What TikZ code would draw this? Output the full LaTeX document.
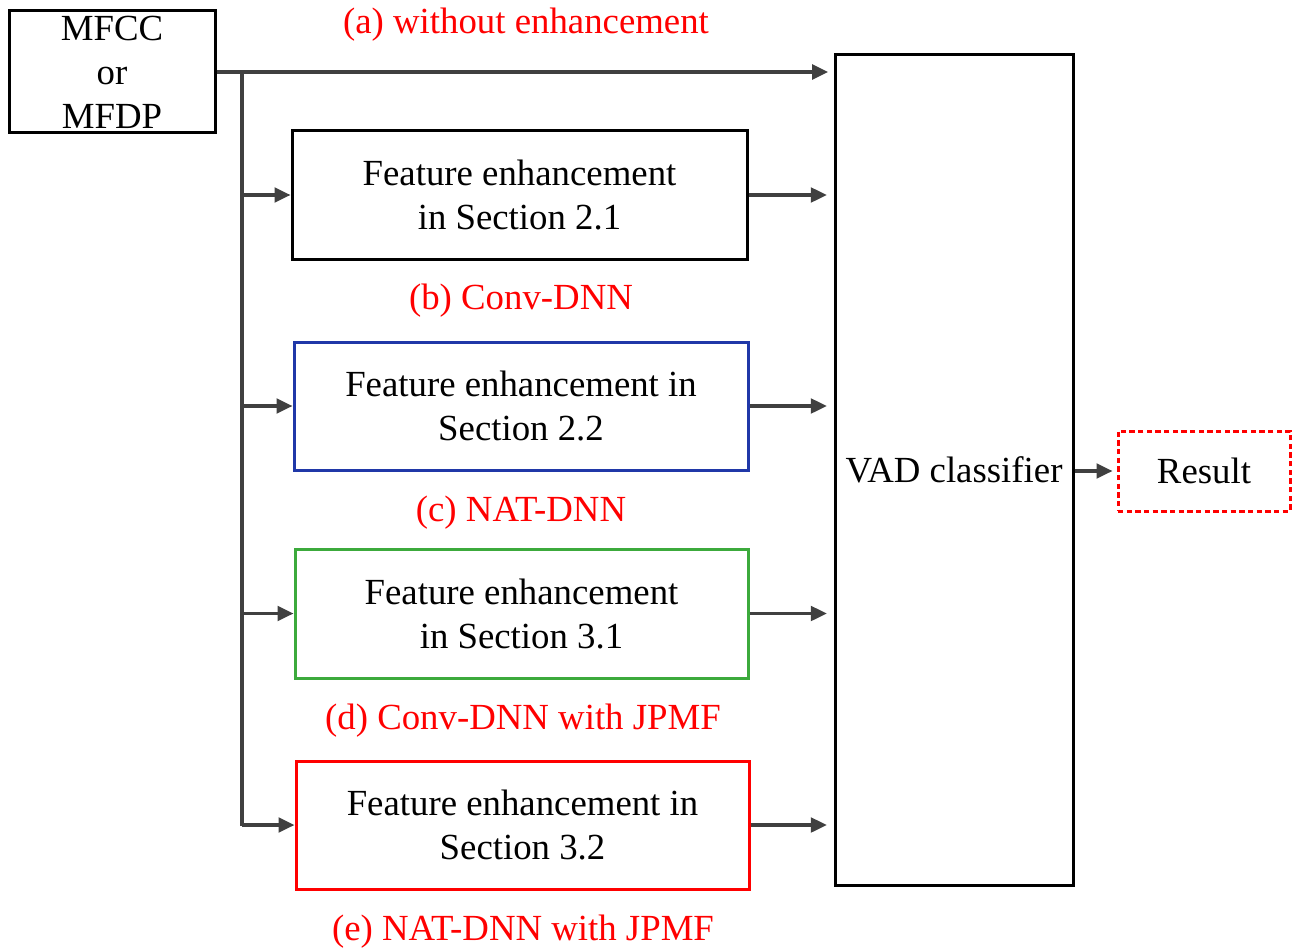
\documentclass[tikz,border=0pt]{standalone}
\usepackage{fontspec}
\setmainfont{Liberation Serif}
\usetikzlibrary{arrows.meta}
\definecolor{lnk}{RGB}{64,64,64}
\definecolor{bblue}{RGB}{32,56,168}
\definecolor{bgreen}{RGB}{60,170,60}
\definecolor{bred}{RGB}{255,0,0}
\begin{document}
\begin{tikzpicture}[x=0.75pt,y=-0.75pt,
  every node/.style={font=\fontsize{27.6}{33}\selectfont, align=center, inner sep=0pt},
  box/.style={draw, line width=2.25pt, minimum width=#1},
  lab/.style={text=bred},
  conn/.style={draw=lnk, line width=2.4pt, -{Triangle[length=12pt,width=11pt]}},
  trunk/.style={draw=lnk, line width=2.4pt}]
\useasboundingbox (0,0) rectangle (1293,949);
\node[box=154.5pt, minimum height=91.5pt] (mf) at (112,72) {MFCC\\or\\MFDP};
\node[box=178.5pt, minimum height=622.5pt] (vad) at (954,470) {VAD classifier};
\node[box=129pt, minimum height=60pt, draw=bred, dash pattern=on 4pt off 2.5pt] (res) at (1204,471) {Result};
\node[box=341.25pt, minimum height=96pt] (b) at (519.5,195) {Feature enhancement\\in Section 2.1};
\node[box=340.5pt, minimum height=96pt, draw=bblue] (c) at (521,406) {Feature enhancement in\\Section 2.2};
\node[box=339.75pt, minimum height=96.75pt, draw=bgreen] (d) at (521.5,613.5) {Feature enhancement\\in Section 3.1};
\node[box=339.75pt, minimum height=96pt, draw=bred] (e) at (522.5,825) {Feature enhancement in\\Section 3.2};
\node[lab] (la) at (526,25) {(a) without enhancement};
\node[lab] (lb) at (521,301) {(b) Conv-DNN};
\node[lab] (lc) at (521,513) {(c) NAT-DNN};
\node[lab] (ld) at (523,721) {(d) Conv-DNN with JPMF};
\node[lab] (le) at (523,932) {(e) NAT-DNN with JPMF};
\coordinate (t0) at (242,72);
\coordinate (t1) at (242,826);
\draw[trunk] (t0) -- (t1);
\draw[conn, shorten >=4pt] (mf.east) -- (mf.east -| vad.west);
\foreach \n in {b,c,d,e}{
  \draw[conn] (t0 |- \n.west) -- (\n.west);
  \draw[conn, shorten >=5pt] (\n.east) -- (\n.east -| vad.west);
}
\draw[conn, shorten >=3pt] (vad.east |- res.west) -- (res.west);
\end{tikzpicture}
\end{document}
